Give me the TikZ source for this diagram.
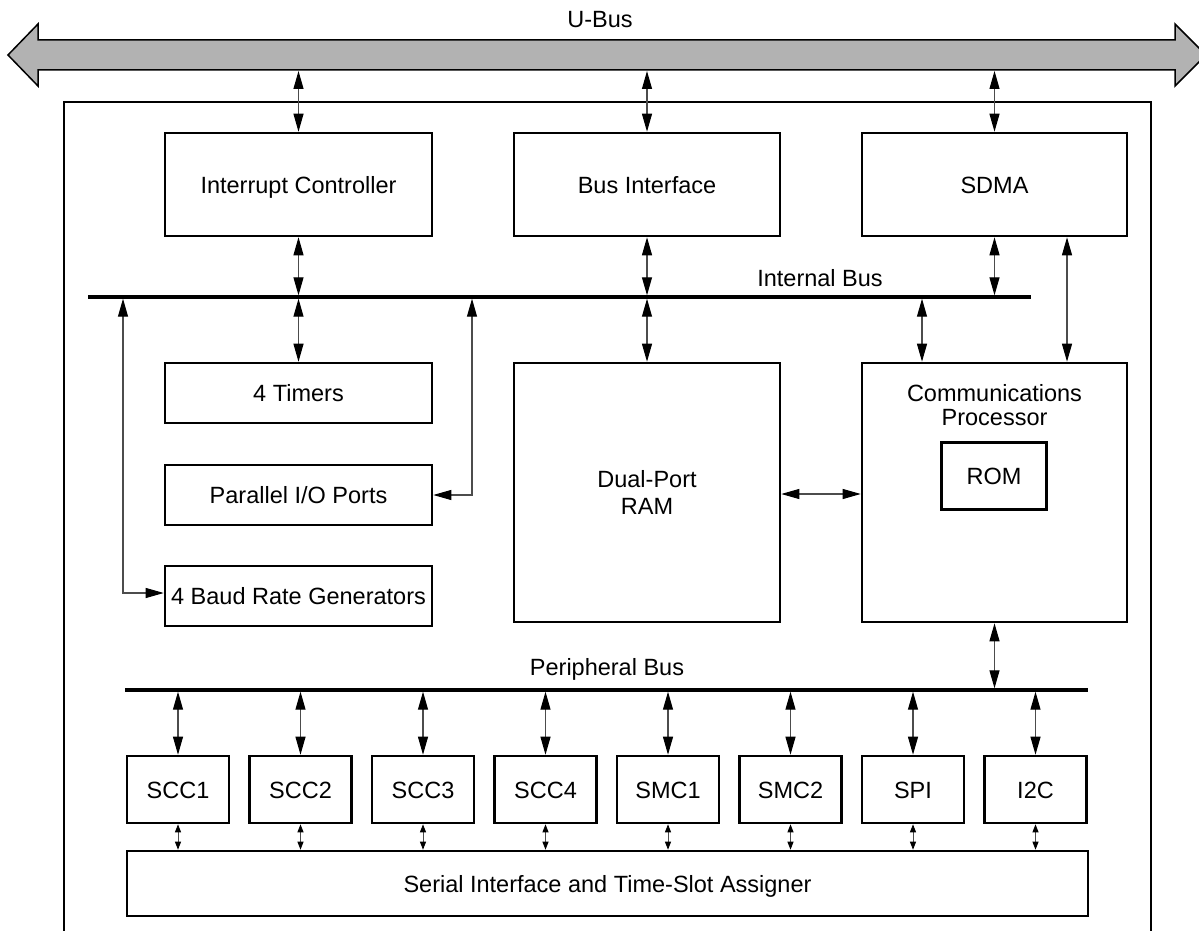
\documentclass[tikz,border=0pt]{standalone}
\usepackage{fontspec}
\setmainfont{Liberation Sans}
\usetikzlibrary{arrows.meta}
\begin{document}
\begin{tikzpicture}[x=1pt,y=-1pt,
  txt/.style={font=\fontsize{23.5}{23.5}\selectfont, inner sep=0pt, align=center},
  box/.style={draw, line width=2.6pt, inner sep=0pt, txt},
  onel/.style={text height=17pt, text depth=0pt},
  conn/.style={line width=1.1pt, draw=black!70,
    {Triangle[length=18pt,width=10pt,color=black]}-{Triangle[length=18pt,width=10pt,color=black]}},
  sconn/.style={line width=0.9pt, draw=black!70,
    {Triangle[length=8pt,width=6pt,color=black]}-{Triangle[length=8pt,width=6pt,color=black]}},
  busline/.style={line width=3.5pt},
  shell/.style={line width=2.6pt}]
\useasboundingbox (0,0) rectangle (1199,931);

% U-Bus
\fill[black!30, draw=black, line width=1.5pt]
  (8,55) -- (38,24) -- (38,40) -- (1175,40) -- (1175,24) -- (1206,55)
  -- (1175,86) -- (1175,70) -- (38,70) -- (38,86) -- cycle;
\node[txt] (ubl) at (600,20) {U-Bus};
\coordinate (ub) at (0,71);

% outer shell
\draw[shell] (64,931) -- (64,102) -- (1151,102) -- (1151,931);

% top boxes
\node[box, onel, minimum width=267pt, minimum height=103pt] (ic) at (298.5,184.5) {Interrupt Controller};
\node[box, onel, minimum width=266pt, minimum height=103pt] (bi) at (647,184.5) {Bus Interface};
\node[box, onel, minimum width=265pt, minimum height=103pt] (sdma) at (994.5,184.5) {SDMA};

% internal bus
\coordinate (ibl) at (88,297);
\coordinate (ibr) at (1031,297);
\coordinate (ib) at (0,297);
\draw[busline] (ibl) -- (ibr);
\node[txt] (ibt) at (820,278) {Internal Bus};

% left column
\node[box, onel, minimum width=267pt, minimum height=60pt] (tim) at (298.5,393) {4 Timers};
\node[box, onel, minimum width=267pt, minimum height=60pt] (pio) at (298.5,495) {Parallel I/O Ports};
\node[box, onel, minimum width=267pt, minimum height=60pt] (baud) at (298.5,596) {4 Baud Rate Generators};

% RAM and CP
\node[box, minimum width=266pt, minimum height=259pt, font=\fontsize{23.5}{27}\selectfont] (ram) at (647,492.5) {Dual-Port\\RAM};
\node[box, minimum width=265pt, minimum height=259pt] (cp) at (994.5,492.5) {};
\node[txt] (cpt) at (994.5,405) {Communications\\Processor};
\node[box, onel, minimum width=105pt, minimum height=67pt] (rom) at (994,476) {ROM};

% peripheral bus
\coordinate (pbl) at (125,690);
\coordinate (pbr) at (1088,690);
\coordinate (pb) at (0,690);
\draw[busline] (pbl) -- (pbr);
\node[txt] (pbt) at (607,669) {Peripheral Bus};

% serial controllers
\foreach \n/\t [count=\i from 0] in {s1/SCC1,s2/SCC2,s3/SCC3,s4/SCC4,m1/SMC1,m2/SMC2,spi/SPI,iic/I2C}{
  \node[box, onel, minimum width=102pt, minimum height=67pt] (\n) at ({178+122.5*\i},789.5) {\t};
}
\node[box, onel, minimum width=961pt, minimum height=65pt] (sia) at (607.5,883.5) {Serial Interface and Time-Slot Assigner};

% U-Bus connectors
\draw[conn] (ic.north |- ub) -- (ic.north);
\draw[conn] (bi.north |- ub) -- (bi.north);
\draw[conn] (sdma.north |- ub) -- (sdma.north);

% internal bus connectors
\draw[conn] (ic.south) -- ([yshift=1.7pt]ic.south |- ib);
\draw[conn] (bi.south) -- ([yshift=1.7pt]bi.south |- ib);
\draw[conn] (sdma.south) -- ([yshift=1.7pt]sdma.south |- ib);
\draw[conn] (tim.north) -- ([yshift=-1.7pt]tim.north |- ib);
\draw[conn] (ram.north) -- ([yshift=-1.7pt]ram.north |- ib);
\coordinate (cpa) at ([xshift=-72.5pt]cp.north);
\draw[conn] (cpa) -- ([yshift=-1.7pt]cpa |- ib);
\coordinate (sda) at ([xshift=72.5pt]sdma.south);
\coordinate (cpb) at ([xshift=72.5pt]cp.north);
\draw[conn] (sda) -- (cpb);
\coordinate (piob) at (472,298.7);
\draw[conn] (pio.east) -| (piob);
\coordinate (baudb) at (123,298.7);
\coordinate (baudw) at ([yshift=3pt]baud.west);
\draw[conn] (baudw) -| (baudb);
\draw[conn] (ram.east |- 0,494) -- (cp.west |- 0,494);

% peripheral bus connectors
\draw[conn] (cp.south) -- ([yshift=1.7pt]cp.south |- pb);
\foreach \n in {s1,s2,s3,s4,m1,m2,spi,iic}{
  \draw[conn] ([yshift=-1.7pt]\n.north |- pb) -- (\n.north);
  \draw[sconn] (\n.south) -- (\n.south |- sia.north);
}
\end{tikzpicture}
\end{document}
